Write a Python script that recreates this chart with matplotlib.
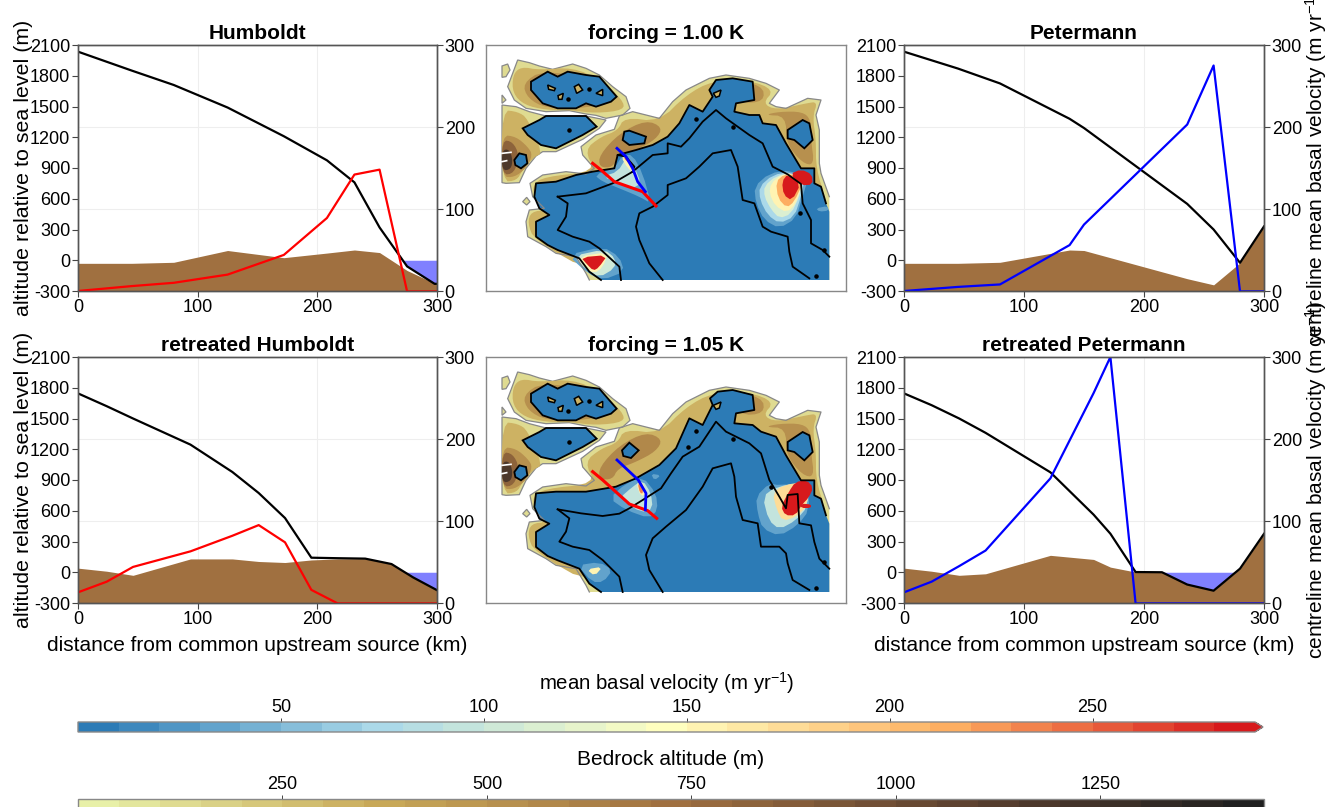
import numpy as np
import matplotlib
matplotlib.use("Agg")
import matplotlib.pyplot as plt
from matplotlib.colors import LinearSegmentedColormap, BoundaryNorm
from matplotlib.cm import ScalarMappable

plt.rcParams['font.family'] = ['Liberation Sans', 'DejaVu Sans']
plt.rcParams['mathtext.default'] = 'regular'
plt.rcParams['axes.unicode_minus'] = False

W, H = 1341, 807

# profiles, x in km, altitude in m, velocity in m/yr
hum_x = [0, 45, 80, 125, 172, 208, 231, 252, 275, 298, 300]
hum_surf = [2035, 1850, 1710, 1490, 1210, 975, 760, 320, -60, -230, -230]
hum_bed = [-30, -30, -20, 95, 25, 70, 100, 75, -100, -225, -230]
hum_vel = [0, 6, 10, 20, 44, 89, 142, 148, -0.5, -0.5, -0.5]

pet_x = [0, 45, 80, 138, 150, 236, 258, 280, 300]
pet_surf = [2035, 1870, 1725, 1380, 1290, 550, 300, -25, 330]
pet_bed = [-30, -30, -20, 100, 95, -180, -240, -25, 330]
pet_vel = [0, 5, 8, 56, 81, 203, 275, -0.5, -0.5]

rhum_x = [0, 24, 46, 94, 129, 151, 173, 195, 217, 240, 262, 280, 300]
rhum_surf = [1745, 1620, 1500, 1245, 978, 773, 529, 142, 137, 133, 80, -50, -175]
rhum_bed = [40, 10, -30, 130, 130, 105, 95, 120, 130, 133, 80, -50, -175]
rhum_vel = [13, 26, 44, 63, 82, 95, 74, 16, -0.5, -0.5, -0.5, -0.5, -0.5]

rpet_x = [0, 23, 46, 68, 122, 158, 172, 193, 215, 236, 258, 280, 300]
rpet_surf = [1745, 1630, 1500, 1360, 975, 562, 376, 2, 0, -120, -180, 35, 375]
rpet_bed = [40, 10, -30, -15, 165, 125, 50, 2, 0, -120, -180, 35, 375]
rpet_vel = [13, 26, 45, 64, 152, 256, 300, -0.5, -0.5, -0.5, -0.5, -0.5, -0.5]

# map outlines in map units
main_land = [(310, 720), (300, 700), (270, 650), (210, 640), (180, 620), (125, 590), (120, 545), (130, 510), (175, 505),
             (140, 470), (132, 430), (170, 405), (240, 395), (300, 402), (325, 385), (290, 345), (285, 320), (330, 285),
             (385, 268), (400, 228), (440, 215), (520, 235), (560, 185), (600, 150), (670, 115), (720, 105), (790, 115),
             (840, 130), (880, 150), (850, 190), (870, 200), (900, 205), (965, 175), (1005, 180), (990, 225), (1000, 270),
             (1000, 370), (1005, 400), (1030, 470), (1030, 720)]
land_polys = [
    [(48, 78), (65, 72), (72, 90), (60, 110), (48, 112)],
    [(48, 165), (60, 180), (48, 190)],
    [(95, 60), (130, 68), (160, 78), (200, 88), (260, 72), (300, 85), (340, 105), (380, 140), (420, 170), (432, 205),
     (410, 225), (360, 235), (330, 226), (300, 222), (250, 212), (180, 215), (120, 205), (85, 180), (65, 140), (80, 100)],
    [(48, 195), (90, 200), (130, 215), (180, 228), (300, 228), (360, 240), (340, 265), (290, 298), (210, 335),
     (170, 335), (150, 348), (120, 385), (100, 428), (60, 430), (48, 428)],
    [(110, 485), (122, 472), (132, 485), (122, 495)],
]
bed_layers = [
    (300, [(105, 80), (160, 90), (260, 82), (345, 120), (410, 180), (415, 210), (330, 220), (250, 210), (180, 210),
           (115, 195), (80, 160), (80, 105)]),
    (300, [(48, 210), (95, 215), (125, 235), (170, 340), (145, 350), (110, 390), (92, 422), (48, 425)]),
    (300, [(295, 330), (345, 290), (395, 272), (415, 232), (520, 245), (600, 165), (680, 122), (790, 120), (865, 150),
           (830, 190), (870, 210), (960, 190), (995, 185), (980, 230), (990, 300), (990, 385), (1020, 480), (1025, 720),
           (330, 705), (145, 600), (125, 550), (135, 515), (185, 510), (145, 470), (140, 435), (175, 410), (330, 395)]),
    (500, [(48, 285), (90, 290), (125, 320), (140, 345), (120, 385), (85, 412), (48, 410)]),
    (500, [(110, 130), (170, 90), (340, 120), (385, 180), (300, 205), (180, 205), (125, 175)]),
    (550, [(340, 345), (400, 280), (480, 240), (530, 262), (510, 298), (450, 330), (395, 350), (380, 382), (340, 382)]),
    (500, [(720, 118), (830, 135), (835, 185), (760, 190)]),
    (500, [(835, 225), (900, 228), (900, 310), (950, 370), (985, 375), (975, 300), (975, 240), (950, 215), (880, 215)]),
    (800, [(48, 300), (80, 305), (100, 345), (85, 400), (48, 405)]),
    (1150, [(48, 330), (70, 328), (80, 358), (75, 388), (48, 392)]),
]
lakes = [
    [(135, 125), (185, 95), (215, 110), (245, 95), (300, 105), (340, 110), (392, 170), (375, 185), (330, 200), (300, 190),
     (270, 205), (215, 205), (170, 190), (135, 150)],
    [(110, 265), (160, 240), (180, 228), (300, 228), (332, 260), (290, 285), (210, 325), (165, 315), (125, 285)],
    [(905, 270), (950, 240), (970, 250), (980, 300), (955, 325), (925, 300), (905, 295)],
    [(85, 360), (100, 340), (120, 345), (124, 370), (105, 385), (88, 375)],
]
nunataks = [
    [(185, 135), (208, 145), (205, 152), (188, 148)],
    [(265, 140), (278, 133), (290, 150), (272, 160)],
    [(330, 160), (350, 148), (350, 167)],
    [(216, 167), (232, 160), (228, 178), (218, 178)],
    [(682, 160), (705, 150), (700, 168), (690, 172)],
]
dots_100 = [(308, 148), (248, 271), (630, 238), (742, 260), (942, 518), (990, 708), (1015, 630), (245, 178)]
dots_105 = [(308, 148), (248, 271), (630, 238), (605, 285), (742, 260), (855, 405), (990, 708), (1015, 630), (245, 178)]

ice_100 = [(345, 720), (310, 695), (280, 655), (215, 630), (185, 615), (150, 590), (150, 545), (190, 525), (160, 505),
           (145, 470), (150, 430), (210, 425), (270, 405), (320, 395), (385, 385), (395, 345), (450, 330), (500, 315),
           (545, 290), (580, 250), (610, 195), (650, 215), (680, 170), (670, 150), (690, 120), (740, 115), (800, 125),
           (805, 180), (750, 190), (745, 215), (790, 225), (820, 225), (830, 250), (870, 255), (900, 310), (945, 385),
           (985, 385), (985, 430), (1005, 440), (1020, 490), (1030, 515), (1030, 720)]
ice_105 = [(345, 720), (310, 695), (280, 650), (215, 625), (185, 612), (150, 585), (150, 540), (190, 515), (160, 500),
           (145, 465), (150, 424), (210, 419), (300, 419), (390, 404), (450, 379), (520, 339), (570, 289), (610, 199),
           (650, 219), (680, 159), (672, 139), (695, 119), (740, 114), (800, 129), (805, 174), (750, 184), (745, 214),
           (800, 219), (825, 239), (870, 254), (900, 310), (945, 385), (985, 385), (985, 430), (1005, 440), (1020, 490),
           (1030, 515), (1030, 720)]
small_lake_100 = [(415, 275), (430, 272), (480, 290), (475, 310), (430, 315), (410, 300)]
small_lake_105 = [(408, 295), (430, 272), (458, 295), (435, 318), (412, 312)]

# levels are velocities for the colour scale
hot_100 = [
    (30, [(805, 440), (850, 400), (915, 390), (965, 420), (950, 470), (930, 535), (880, 565), (835, 540), (810, 490)]),
    (70, [(820, 440), (860, 405), (915, 395), (955, 422), (945, 470), (925, 530), (880, 550), (845, 525), (822, 480)]),
    (115, [(835, 438), (870, 408), (918, 398), (950, 425), (940, 470), (915, 522), (880, 535), (855, 508), (835, 470)]),
    (150, [(855, 430), (885, 405), (920, 400), (950, 430), (930, 490), (903, 518), (868, 498), (850, 460)]),
    (215, [(870, 425), (895, 403), (925, 405), (950, 430), (925, 485), (902, 503), (876, 475)]),
    (290, [(888, 425), (905, 402), (945, 430), (918, 482), (893, 465)]),
    (290, [(912, 402), (945, 388), (978, 403), (980, 434), (945, 436)]),
    (30, [(245, 645), (350, 620), (400, 650), (415, 695), (350, 720), (305, 700)]),
    (100, [(262, 648), (355, 628), (388, 655), (386, 685), (340, 712), (302, 690)]),
    (150, [(275, 650), (368, 636), (350, 682), (325, 700), (296, 684)]),
    (290, [(285, 652), (365, 645), (338, 683), (322, 692), (302, 672)]),
    (30, [(325, 405), (385, 385), (410, 345), (440, 345), (470, 400), (495, 490), (460, 470), (400, 445), (350, 425)]),
    (90, [(350, 410), (395, 395), (420, 355), (445, 380), (465, 430), (440, 445), (400, 430)]),
    (150, [(405, 350), (425, 350), (450, 385), (445, 400), (425, 385)]),
    (260, [(412, 352), (425, 355), (442, 378), (430, 372)]),
    (30, [(990, 505), (1025, 498), (1028, 512), (1000, 515)]),
]
hot_105 = [
    (30, [(370, 439), (420, 394), (470, 374), (510, 424), (515, 474), (490, 499), (420, 474)]),
    (90, [(400, 439), (440, 404), (470, 384), (495, 424), (500, 469), (470, 484)]),
    (150, [(450, 394), (470, 389), (482, 424), (465, 434)]),
    (230, [(455, 394), (468, 392), (472, 424), (462, 424)]),
    (30, [(810, 434), (850, 394), (880, 400), (965, 390), (970, 474), (935, 520), (880, 552), (830, 530), (815, 484)]),
    (90, [(830, 434), (870, 404), (965, 390), (965, 464), (930, 505), (880, 532), (848, 505)]),
    (170, [(860, 424), (890, 400), (965, 388), (965, 460), (930, 495), (890, 507), (872, 472)]),
    (290, [(885, 464), (908, 420), (928, 390), (962, 384), (982, 407), (968, 437), (948, 458), (928, 490), (898, 490)]),
    (290, [(945, 455), (975, 457), (975, 468), (945, 468)]),
    (30, [(275, 640), (340, 630), (380, 654), (352, 690), (318, 690)]),
    (150, [(302, 652), (350, 644), (326, 672)]),
    (30, [(495, 365), (525, 370), (505, 385)]),
]

lines_100 = [
    [(215, 470), (300, 460), (380, 430), (440, 395), (445, 380), (420, 350), (395, 345)],
    [(440, 395), (500, 345), (545, 340), (545, 310), (585, 320), (610, 295), (650, 245), (690, 210), (720, 235),
     (790, 285), (830, 310), (860, 380), (905, 403), (945, 432), (950, 490), (975, 540), (975, 610), (1010, 630), (1030, 650)],
    [(215, 470), (245, 490), (240, 530), (215, 570), (260, 590), (310, 605), (340, 625), (400, 680), (405, 720)],
    [(530, 720), (490, 670), (460, 600), (450, 560), (460, 520), (500, 500), (545, 465), (545, 435), (600, 415), (640, 380),
     (680, 340), (735, 330), (755, 380), (770, 480), (805, 490), (830, 560), (855, 575), (905, 590), (910, 635), (920, 680),
     (970, 715)],
]
lines_105 = [
    [(215, 472), (285, 484), (350, 492), (400, 485), (430, 469), (470, 444), (525, 409), (555, 364), (590, 314),
     (640, 284), (690, 209), (720, 239), (790, 274), (825, 304), (850, 384), (880, 434), (900, 469), (905, 429),
     (935, 426), (940, 514), (975, 520), (985, 570), (1000, 620), (1030, 650)],
    [(215, 472), (250, 499), (240, 539), (220, 569), (260, 584), (310, 594), (350, 624), (400, 674), (410, 720)],
    [(530, 720), (490, 654), (480, 609), (500, 559), (540, 524), (600, 474), (650, 404), (680, 349), (735, 334), (745, 374),
     (750, 434), (770, 504), (815, 514), (825, 584), (880, 584), (900, 604), (905, 634), (920, 684), (970, 714)],
]

hum_line_100 = [(320, 370), (345, 390), (385, 425), (470, 455), (510, 498)]
pet_line_100 = [(393, 325), (420, 350), (440, 385), (455, 425), (478, 455)]
hum_line_105 = [(320, 359), (350, 384), (430, 456), (485, 476), (512, 499)]
pet_line_105 = [(393, 324), (457, 384), (480, 424), (478, 474)]

vel_levels = np.arange(0, 300, 10)
vel_ticks = [50, 100, 150, 200, 250]
bed_levels = np.arange(0, 1500, 50)
bed_ticks = [250, 500, 750, 1000, 1250]

vel_cmap = LinearSegmentedColormap.from_list('vel', ['#2c7bb6', '#abd9e9', '#ffffbf', '#fdae61', '#d7191c'], N=29)
bed_cmap = LinearSegmentedColormap.from_list('bed', ['#e8f0a8', '#c8a858', '#a07040', '#5e4230', '#202020'], N=29)
vel_norm = BoundaryNorm(vel_levels, vel_cmap.N)
bed_norm = BoundaryNorm(bed_levels, bed_cmap.N)


def add_ax(x0, y0, x1, y1):
    return fig.add_axes([x0 / W, 1 - y1 / H, (x1 - x0) / W, (y1 - y0) / H])


def profile(box, title, x, surf, bed, vel, color, left_label=False, right_label=False, bottom_label=False):
    ax = add_ax(*box)
    x = np.array(x)
    surf = np.array(surf)
    ax.fill_between(x, surf, 0, where=surf < 0, interpolate=True, color='#8080ff', lw=0)
    ax.fill_between(x, bed, -300, color='#a07040', lw=0)
    ax.plot(x, surf, color='black', lw=1.6)
    ax.set_xlim(0, 300)
    ax.set_ylim(-300, 2100)
    ax.set_xticks([0, 100, 200, 300])
    ax.set_yticks(np.arange(-300, 2101, 300))
    # the velocity axis grid falls at these altitudes
    ax.set_yticks([500, 1300], minor=True)
    ax.tick_params(which='minor', length=0)
    ax.set_title(title, fontsize=15, fontweight='bold', pad=4)
    ax.grid(True, axis='x', color='#eeeeee', lw=0.8)
    ax.grid(True, axis='y', which='minor', color='#eeeeee', lw=0.8)
    ax.set_axisbelow(True)

    ax2 = ax.twinx()
    ax2.plot(x, vel, color=color, lw=1.6)
    ax2.set_ylim(0, 300)
    ax2.set_yticks([0, 100, 200, 300])
    for a in (ax, ax2):
        a.tick_params(which='major', labelsize=13, length=4, width=0.8, color='#444444', pad=1.5)
        for s in a.spines.values():
            s.set_color('#555555')
            s.set_linewidth(1.0)
    if left_label:
        ax.set_ylabel('altitude relative to sea level (m)', fontsize=15.4)
        ax.yaxis.set_label_coords(-0.125, 0.5)
    if right_label:
        ax2.set_ylabel('centreline mean basal velocity (m yr$^{-1}$)', fontsize=15)
        ax2.yaxis.set_label_coords(1.108, 0.5)
    if bottom_label:
        ax.set_xlabel('distance from common upstream source (km)', fontsize=15)
        ax.xaxis.set_label_coords(0.5, -0.134)


def rounded(pts, passes=2):
    # corner cutting so that the read outlines are not so angular
    p = np.array(pts, dtype=float)
    for _ in range(passes):
        q = np.roll(p, -1, axis=0)
        p = np.column_stack([0.75 * p + 0.25 * q, 0.25 * p + 0.75 * q]).reshape(-1, 2)
    return p


def fill_poly(ax, pts, **kw):
    p = np.asarray(pts)
    ax.fill(p[:, 0], p[:, 1], **kw)


def track(ax, pts, **kw):
    p = np.asarray(pts)
    ax.plot(p[:, 0], p[:, 1], **kw)


def map_panel(box, title, ice, small_lake, hot, lines, dots, hum_line, pet_line):
    ax = add_ax(*box)
    land_color = bed_cmap(bed_norm(100))
    fill_poly(ax, main_land, facecolor=land_color, edgecolor='none')
    track(ax, main_land[:-1], color='#888888', lw=0.9)
    for p in land_polys:
        fill_poly(ax, p, facecolor=land_color, edgecolor='#888888', lw=0.9)
    for level, p in bed_layers:
        fill_poly(ax, rounded(p), facecolor=bed_cmap(bed_norm(level)), edgecolor='none')
    ice_blue = vel_cmap(0)
    fill_poly(ax, ice, facecolor=ice_blue, edgecolor='none')
    for p in lakes + [small_lake]:
        fill_poly(ax, p, facecolor=ice_blue, edgecolor='black', lw=1.3)
    for p in nunataks:
        fill_poly(ax, p, facecolor=bed_cmap(bed_norm(300)), edgecolor='black', lw=1.1)
    for level, p in hot:
        fill_poly(ax, rounded(p, 1), facecolor=vel_cmap(vel_norm(level)), edgecolor='none')
    # main ice margin goes over the hot spots, open along the map edge
    track(ax, ice[:-2], color='black', lw=1.3)
    for p in lines:
        track(ax, p, color='black', lw=1.3)
    d = np.array(dots)
    ax.scatter(d[:, 0], d[:, 1], s=5, color='black', zorder=3)
    track(ax, [(48, 340), (75, 337)], color='white', lw=1.2)
    track(ax, [(48, 365), (62, 362)], color='white', lw=1.2)
    track(ax, hum_line, color='#ff0000', lw=2.2, zorder=4)
    track(ax, pet_line, color='#0000ff', lw=2.0, zorder=4)
    ax.set_xlim(0, 1080)
    ax.set_ylim(753, 15)
    ax.set_xticks([])
    ax.set_yticks([])
    ax.set_title(title, fontsize=15, fontweight='bold', pad=4)
    for s in ax.spines.values():
        s.set_color('#888888')
        s.set_linewidth(1.0)


fig = plt.figure(figsize=(W / 100, H / 100), dpi=100)

profile((78, 45, 437, 291), 'Humboldt', hum_x, hum_surf, hum_bed, hum_vel, '#ff0000', left_label=True)
profile((904, 45, 1264, 291), 'Petermann', pet_x, pet_surf, pet_bed, pet_vel, '#0000ff', right_label=True)
profile((78, 357, 437, 603), 'retreated Humboldt', rhum_x, rhum_surf, rhum_bed, rhum_vel, '#ff0000',
        left_label=True, bottom_label=True)
profile((904, 357, 1264, 603), 'retreated Petermann', rpet_x, rpet_surf, rpet_bed, rpet_vel, '#0000ff',
        right_label=True, bottom_label=True)

map_panel((486, 45, 846, 291), 'forcing = 1.00 K', ice_100, small_lake_100, hot_100, lines_100, dots_100,
          hum_line_100, pet_line_100)
map_panel((486, 357, 846, 603), 'forcing = 1.05 K', ice_105, small_lake_105, hot_105, lines_105, dots_105,
          hum_line_105, pet_line_105)

# colour bars
cax1 = add_ax(78, 722, 1263, 732)
sm1 = ScalarMappable(norm=BoundaryNorm(vel_levels, vel_cmap.N), cmap=vel_cmap.with_extremes(over='#d7191c'))
cb1 = fig.colorbar(sm1, cax=cax1, orientation='horizontal', extend='max', extendfrac=8 / 1177, spacing='uniform')
cb1.set_ticks(vel_ticks)
cb1.set_label('mean basal velocity (m yr$^{-1}$)', fontsize=14.7, labelpad=7)

cax2 = add_ax(78, 799, 1264, 830)
sm2 = ScalarMappable(norm=bed_norm, cmap=bed_cmap)
cb2 = fig.colorbar(sm2, cax=cax2, orientation='horizontal', spacing='uniform')
cb2.set_ticks(bed_ticks)
cb2.set_label('Bedrock altitude (m)', fontsize=15, labelpad=8)

for cb in (cb1, cb2):
    cb.ax.xaxis.set_ticks_position('top')
    cb.ax.xaxis.set_label_position('top')
    cb.ax.tick_params(labelsize=13, length=3, width=0.7, color='#444444', pad=1)
    cb.ax.minorticks_off()
    cb.outline.set_edgecolor('#888888')
    cb.outline.set_linewidth(1.0)

fig.savefig('out.png', dpi=100)
